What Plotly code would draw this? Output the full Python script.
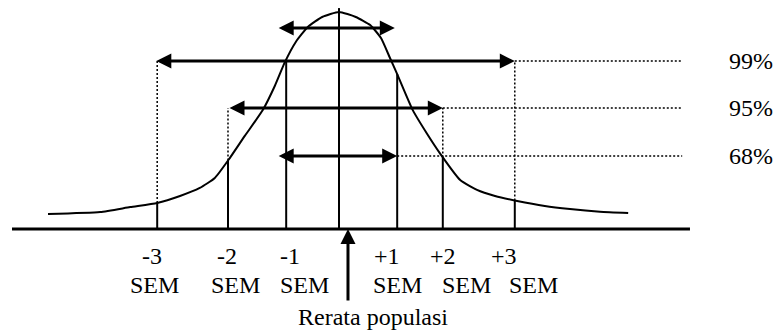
import plotly.graph_objects as go

# Bell curve (x in SEM-ish units from the mean, y = relative height)
curve_x = [-4.85, -3.98, -3.48, -3.03, -2.65, -2.32, -2.07, -1.82, -1.57, -1.27, -1.07, -0.90,
           -0.72, -0.52, -0.28, 0.0, 0.28, 0.52, 0.70, 0.85, 0.97, 1.23, 1.47, 1.68, 2.02,
           2.30, 2.60, 2.97, 3.43, 3.85, 4.35, 4.82]
curve_y = [0.069, 0.078, 0.101, 0.120, 0.152, 0.189, 0.235, 0.327, 0.429, 0.548, 0.659, 0.770,
           0.862, 0.931, 0.977, 1.0, 0.977, 0.940, 0.880, 0.788, 0.714, 0.548, 0.438, 0.350, 0.226,
           0.180, 0.152, 0.129, 0.106, 0.092, 0.080, 0.074]

# SEM markers
sem_labels = ["-3", "-2", "-1", "+1", "+2", "+3"]
sem_pos = [-3.03, -1.85, -0.88, 0.97, 1.73, 2.93]
sem_curve_h = [0.120, 0.316, 0.78, 0.714, 0.33, 0.131]
sem_dot_top = [0.774, 0.558, None, None, 0.558, 0.774]
num_label_x = [-3.12, -1.87, -0.82, 0.80, 1.73, 2.75]
sem_label_x = [-3.07, -1.72, -0.58, 0.97, 2.13, 3.25]

# confidence intervals
conf_labels = ["99%", "95%", "68%"]
conf_level = [0.774, 0.558, 0.336]
conf_lo = [-3.07, -1.85, -1.03]
conf_hi = [2.93, 1.73, 0.97]

# small arrow near the peak
top_level = 0.926
top_lo, top_hi = -1.03, 0.93

mean_x = 0.0
mean_top = 1.018
base_lo, base_hi = -5.45, 5.85
dot_end = 5.72
label_x = 6.47

fig = go.Figure()

# baseline
fig.add_trace(go.Scatter(x=[base_lo, base_hi], y=[0, 0], mode="lines",
                         line=dict(color="black", width=3), hoverinfo="skip"))
# curve
fig.add_trace(go.Scatter(x=curve_x, y=curve_y, mode="lines",
                         line=dict(color="black", width=2, shape="spline", smoothing=0.5),
                         hoverinfo="skip"))
# mean line
fig.add_trace(go.Scatter(x=[mean_x, mean_x], y=[0, mean_top], mode="lines",
                         line=dict(color="black", width=2), hoverinfo="skip"))

# SEM lines: solid up to the curve, dotted above it for +-2 and +-3
for pos, h, top in zip(sem_pos, sem_curve_h, sem_dot_top):
    fig.add_trace(go.Scatter(x=[pos, pos], y=[0, h], mode="lines",
                             line=dict(color="black", width=2), hoverinfo="skip"))
    if top is not None:
        fig.add_trace(go.Scatter(x=[pos, pos], y=[h, top], mode="lines",
                                 line=dict(color="black", width=1.5, dash="2px,2px"),
                                 hoverinfo="skip"))

# dotted leaders to the percentage labels
for lvl, hi in zip(conf_level, conf_hi):
    fig.add_trace(go.Scatter(x=[hi, dot_end], y=[lvl, lvl], mode="lines",
                             line=dict(color="black", width=1.5, dash="2px,2px"),
                             hoverinfo="skip"))

font = dict(family="Liberation Serif, Times New Roman, serif", size=24, color="black")
annotations = []


def double_arrow(lo, hi, lvl):
    return dict(x=hi, y=lvl, ax=lo, ay=lvl, xref="x", yref="y", axref="x", ayref="y",
                text="", showarrow=True, arrowhead=2, startarrowhead=2, arrowside="end+start",
                arrowsize=1, startarrowsize=1, arrowwidth=3, arrowcolor="black",
                standoff=0, startstandoff=0)


for lo, hi, lvl in zip(conf_lo, conf_hi, conf_level):
    annotations.append(double_arrow(lo, hi, lvl))
annotations.append(double_arrow(top_lo, top_hi, top_level))

for lab, lvl in zip(conf_labels, conf_level):
    annotations.append(dict(x=label_x, y=lvl, xref="x", yref="y", text=lab, showarrow=False,
                            xanchor="left", yanchor="middle", font=font))

for lab, nx, sx in zip(sem_labels, num_label_x, sem_label_x):
    annotations.append(dict(x=nx, y=-0.125, xref="x", yref="y", text=lab, showarrow=False,
                            xanchor="center", yanchor="middle", font=font))
    annotations.append(dict(x=sx, y=-0.258, xref="x", yref="y", text="SEM", showarrow=False,
                            xanchor="center", yanchor="middle", font=font))

# population mean pointer
annotations.append(dict(x=0.15, y=0, ax=0.15, ay=-0.336, xref="x", yref="y", axref="x", ayref="y",
                        text="", showarrow=True, arrowhead=2, arrowsize=1, arrowwidth=3,
                        arrowcolor="black", standoff=0))
annotations.append(dict(x=-0.72, y=-0.405, xref="x", yref="y", text="Rerata populasi",
                        showarrow=False, xanchor="left", yanchor="middle", font=font))

fig.update_layout(
    width=778, height=331,
    margin=dict(l=0, r=0, t=0, b=0),
    paper_bgcolor="white", plot_bgcolor="white",
    showlegend=False,
    xaxis=dict(range=[-5.65, 7.317], visible=False, fixedrange=True),
    yaxis=dict(range=[-0.470, 1.0553], visible=False, fixedrange=True),
    annotations=annotations,
)

# drop the default page margin so the figure sits at the window corner
fig.write_html("out.html", config={"displayModeBar": False},
               post_script="document.body.style.margin='0';")
